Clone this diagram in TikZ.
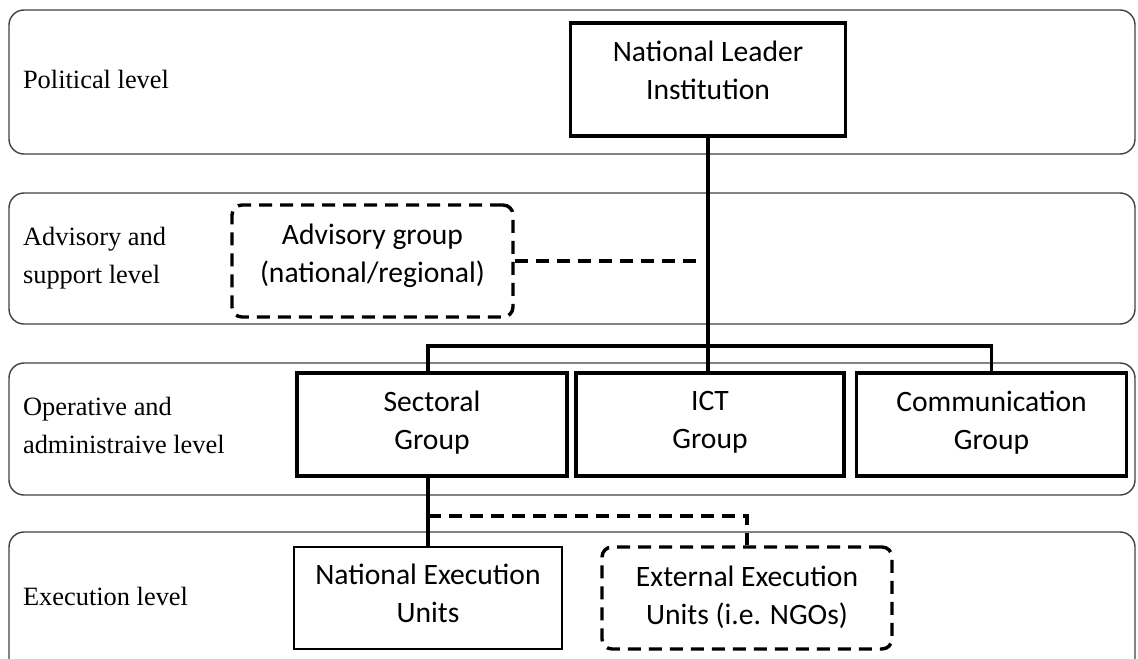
\documentclass[tikz,border=0pt]{standalone}
\usepackage{fontspec}
\setmainfont{Liberation Serif}
\newfontfamily\grpfont{Carlito}
\usetikzlibrary{positioning}

\tikzset{
  band/.style={draw=black!75,line width=0.7pt,rounded corners=7.5pt},
  lvl/.style={anchor=west,align=left,font=\fontsize{13.2}{19}\selectfont},
  grp/.style={draw,line width=1.7pt,align=center,minimum width=135pt,minimum height=51.5pt,
    text depth=4.5pt,font=\grpfont\fontsize{14.8}{19}\selectfont},
  opt/.style={grp,dash pattern=on 6.5pt off 4pt,rounded corners=5pt},
  link/.style={line width=1.6pt},
  optlink/.style={link,dash pattern=on 6.5pt off 4pt}
}

\begin{document}
\begin{tikzpicture}[x=0.5pt,y=-0.5pt]
   \useasboundingbox (0,0) rectangle (1138,658);
   % the four levels
   \foreach \top/\bot in {10/154,193/324,363/495,532/690}{
   \draw[band] (9,\top) rectangle (1135,\bot);
   }
   \foreach \y/\txt[count=\i] in {79/{Political level},258/{Advisory and\\support level},
       425/{Operative and\\administraive level},596/{Execution level}}{
   \node[lvl] (lv\i) at (16,\y) {\txt};
   }

   \node[grp,minimum width=137.5pt,minimum height=56.5pt,text depth=9.5pt] (nli) at (708,79.5) {National Leader\\Institution};
   \node[opt,minimum width=140.5pt,minimum height=56pt,text depth=8pt] (adv) at (372.5,261) {Advisory group\\(national/regional)};
   \node[grp] (sect) at (432,424.5) {Sectoral\\Group};
   \node[grp,minimum width=134pt] (ict) at (710,424.5) {ICT\\Group};
   \node[grp] (comm) at (991.5,424.5) {Communication\\Group};
   \node[grp,line width=1pt,minimum width=134pt,minimum height=51pt,text depth=5pt] (neu) at (428,598) {National Execution\\Units};
   \node[opt,minimum width=145pt,minimum height=51pt,text depth=3pt] (eeu) at (747,598) {External Execution\\Units (i.e. NGOs)};

   \coordinate (bus) at (708,346);
   \coordinate (advend) at (697,261);
   \draw[link] (nli.south) -- (nli.south |- ict.north);
   \draw[link] (neu.north |- sect.north) |- (bus) -| (comm.north);
   \draw[link] (neu.north |- sect.south) -- (neu.north);
   \draw[optlink] (adv.east) -- (advend);
   \path (neu.north) ++(0,-30) coordinate (fork);
   \draw[optlink] (fork) -| (eeu.north);
\end{tikzpicture}
\end{document}
